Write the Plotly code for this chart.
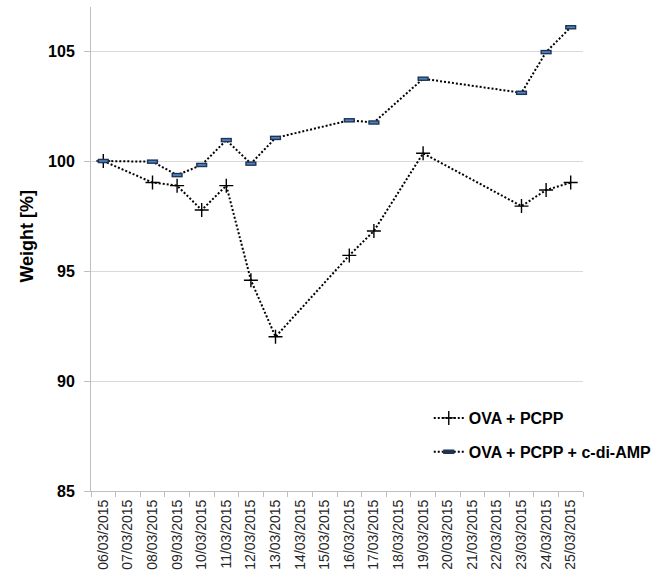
import plotly.graph_objects as go

dates = ["06/03/2015", "07/03/2015", "08/03/2015", "09/03/2015", "10/03/2015",
         "11/03/2015", "12/03/2015", "13/03/2015", "14/03/2015", "15/03/2015",
         "16/03/2015", "17/03/2015", "18/03/2015", "19/03/2015", "20/03/2015",
         "21/03/2015", "22/03/2015", "23/03/2015", "24/03/2015", "25/03/2015"]

measured_dates = ["06/03/2015", "08/03/2015", "09/03/2015", "10/03/2015", "11/03/2015",
                  "12/03/2015", "13/03/2015", "16/03/2015", "17/03/2015", "19/03/2015",
                  "23/03/2015", "24/03/2015", "25/03/2015"]

ova_pcpp = [100.0, 99.02, 98.88, 97.77, 98.88, 94.58, 92.01, 95.71, 96.82, 100.35,
            97.95, 98.68, 99.02]
ova_pcpp_cdiamp = [100.0, 99.97, 99.36, 99.82, 100.95, 99.88, 101.05, 101.85, 101.75,
                   103.74, 103.1, 104.95, 106.08]

y_ticks = [85, 90, 95, 100, 105]

W, H = 664, 577
L, R, T, B = 91, 69, 7, 86
pw, ph = W - L - R, H - T - B

fig = go.Figure()

fig.add_trace(go.Scatter(
    x=measured_dates, y=ova_pcpp, name="OVA + PCPP", mode="lines+markers",
    legendgroup="a",
    line=dict(color="black", width=2, dash="2px,2px"),
    marker=dict(symbol="cross-thin", size=10, line=dict(color="black", width=1.4)),
))
fig.add_trace(go.Scatter(
    x=measured_dates, y=ova_pcpp_cdiamp, name="OVA + PCPP + c-di-AMP", mode="lines+markers",
    legendgroup="b",
    line=dict(color="black", width=2, dash="2px,2px"),
    marker=dict(symbol="line-ew", size=8, line=dict(color="#1f3352", width=4.5)),
))
fig.add_trace(go.Scatter(
    x=measured_dates, y=ova_pcpp_cdiamp, mode="markers", showlegend=False,
    legendgroup="b", hoverinfo="skip",
    marker=dict(symbol="line-ew", size=6, line=dict(color="#4f81bd", width=1.8)),
))

fig.update_layout(
    width=W, height=H,
    margin=dict(l=L, r=R, t=T, b=B),
    paper_bgcolor="white", plot_bgcolor="white",
    font=dict(family="Liberation Sans, Arial, sans-serif", color="black"),
    showlegend=True,
    legend=dict(
        x=(437 - L) / pw, y=(H - B - 401) / ph, xanchor="left", yanchor="top",
        font=dict(size=16, family="Liberation Sans, Arial, sans-serif", color="black",
                  weight="bold"),
        bgcolor="rgba(0,0,0,0)", tracegroupgap=10,
    ),
    xaxis=dict(
        type="category", categoryorder="array", categoryarray=dates,
        tickmode="array", tickvals=dates, ticktext=dates,
        tickangle=-90, tickson="boundaries", ticks="outside", ticklen=5,
        tickcolor="#bfbfbf", showline=True, linecolor="#bfbfbf", linewidth=1,
        showgrid=False, tickfont=dict(size=14, color="#262626"),
        ticklabelstandoff=2,
        range=[-0.5, len(dates) - 0.5], zeroline=False,
    ),
    yaxis=dict(
        range=[85, 107], tickvals=y_ticks, ticks="outside", ticklen=6,
        tickcolor="#bfbfbf", showline=True, linecolor="#bfbfbf", linewidth=1,
        showgrid=True, gridcolor="#d9d9d9", gridwidth=1, zeroline=False,
        tickfont=dict(size=16, color="black", weight="bold"),
        ticklabelstandoff=6,
    ),
    annotations=[dict(
        text="<b>Weight [%]</b>", textangle=-90, showarrow=False,
        xref="paper", yref="paper", x=(25 - L) / pw, y=(H - B - 236) / ph,
        xanchor="center", yanchor="middle",
        font=dict(size=18, color="black", family="Liberation Sans, Arial, sans-serif"),
    )],
)

fig.write_html("out.html", config={"displayModeBar": False},
               post_script="document.body.style.margin='0px';")
